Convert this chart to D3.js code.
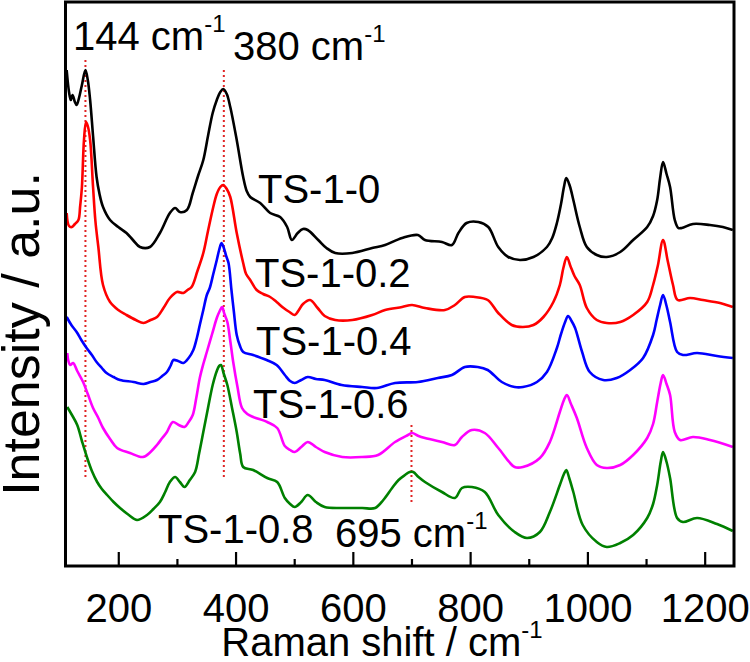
<!DOCTYPE html>
<html>
<head>
<meta charset="utf-8">
<script src="https://cdn.jsdelivr.net/npm/d3@7"></script>
<style>
html,body{margin:0;padding:0;background:#fff;}
svg{display:block;}
text{font-family:"Liberation Sans",Arial,sans-serif;fill:#000;}
</style>
</head>
<body>
<svg id="chart" width="750" height="662"></svg>
<script>
// ---- data (Raman shift in cm-1, intensity in a.u.) ----
const seriesNames = ["TS-1-0", "TS-1-0.2", "TS-1-0.4", "TS-1-0.6", "TS-1-0.8"];
const seriesColors = ["#000000", "#ff0000", "#0000ff", "#ff00ff", "#008000"];

const ts1_0 = [[112,496],[116,474],[119,466],[122,471],[126,464],[129,461],[133,468],[138,481],[144,496],[148,486],[152,466],[157,430],[163,389],[168,372],[174,359],[186,346],[200,339],[214,333],[225,326],[237,319],[254,319],[271,333],[288,353],[297,358],[305,354],[317,356],[327,373],[336,390],[345,406],[353,430],[361,453],[368,466],[374,474],[379,477],[385,472],[391,459],[402,426],[413,389],[419,375],[425,369],[442,363],[459,353],[476,349],[488,339],[496,326],[506,333],[515,337],[523,336],[541,326],[555,318],[570,313],[599,313],[633,318],[655,321],[684,328],[711,331],[723,326],[752,324],[769,321],[780,333],[794,343],[814,344],[831,339],[848,319],[865,309],[885,306],[908,309],[931,319],[940,328],[948,343],[955,362],[960,379],[964,388],[970,380],[976,366],[987,339],[999,319],[1016,311],[1033,309],[1056,314],[1078,326],[1102,339],[1112,350],[1119,366],[1124,388],[1129,404],[1135,392],[1141,379],[1149,346],[1155,338],[1161,338],[1180,342],[1209,341],[1231,339],[1248,336]];

const ts1_02 = [[112,353],[116,340],[121,339],[126,342],[132,346],[135,360],[138,379],[141.5,426],[145,444],[148,440],[152,426],[157,379],[161,345],[166,319],[174,281],[186,264],[200,256],[214,251],[230,246],[243,243],[255,246],[266,249],[277,258],[288,268],[300,274],[311,273],[318,276],[325,279],[335,295],[345,313],[353,335],[362,359],[368,372],[374,379],[379,381],[385,377],[391,369],[402,333],[413,303],[418,292],[425,286],[436,276],[447,272],[459,269],[470,264],[482,258],[492,254],[501,251],[508,256],[515,262],[527,266],[540,258],[552,250],[570,246],[599,246],[633,251],[655,256],[684,259],[701,261],[723,258],[757,256],[774,261],[791,269],[808,269],[830,266],[848,253],[871,241],[890,239],[908,241],[925,249],[942,264],[953,281],[959,298],[965,309],[971,300],[978,290],[987,281],[999,258],[1016,246],[1033,243],[1056,244],[1078,251],[1102,264],[1112,281],[1120,300],[1129,326],[1137,305],[1146,281],[1154,266],[1175,268],[1197,266],[1226,263],[1248,259]];

const ts1_04 = [[112,249],[120,241],[129,234],[137,226],[146,218],[155,211],[163,204],[172,198],[180,193],[192,189],[203,186],[226,184],[243,182],[255,184],[266,186],[275,190],[283,194],[289,200],[294,206],[302,205],[311,203],[320,208],[328,216],[334,228],[339,241],[345,256],[351,271],[356,278],[362,292],[368,306],[372,316],[376,323],[380,318],[384,310],[388,303],[393,276],[397,255],[402,231],[407,221],[413,214],[430,211],[453,206],[470,201],[484,191],[493,185],[501,183],[512,186],[523,189],[537,187],[552,186],[581,181],[616,179],[641,178],[672,183],[711,184],[745,188],[769,191],[791,199],[813,199],[830,196],[854,184],[876,179],[890,179],[914,184],[931,194],[948,218],[955,232],[962,244],[967,250],[973,245],[979,238],[991,214],[1004,194],[1027,186],[1050,188],[1073,196],[1095,208],[1112,231],[1118,246],[1124,261],[1129,271],[1135,260],[1141,244],[1153,214],[1163,211],[1187,213],[1221,210],[1248,208]];

const ts1_06 = [[113,213],[115,205],[118,201],[123,203],[130,195],[140,184],[148,172],[157,158],[166,148],[174,138],[186,127],[198,118],[220,113],[242,109],[255,114],[266,121],[275,128],[283,134],[293,144],[303,141],[313,139],[320,144],[327,151],[333,168],[339,188],[345,202],[351,214],[360,232],[368,248],[373,255],[377,259],[381,252],[386,244],[391,225],[396,204],[403,180],[411,158],[420,152],[430,149],[454,144],[471,138],[484,120],[493,116],[501,114],[512,119],[523,124],[537,119],[552,114],[582,109],[616,109],[643,111],[672,124],[694,131],[701,133],[712,130],[723,128],[752,124],[774,121],[786,129],[803,136],[825,133],[848,118],[876,99],[890,99],[919,108],[936,124],[953,154],[960,166],[965,171],[972,162],[982,148],[999,118],[1016,101],[1033,98],[1056,101],[1078,111],[1102,128],[1112,142],[1119,164],[1125,183],[1129,191],[1135,182],[1141,171],[1149,134],[1158,126],[1180,129],[1209,126],[1248,119]];

const ts1_08 = [[113,159],[120,152],[130,141],[138,125],[147,108],[155,95],[164,84],[172,77],[181,71],[192,64],[203,58],[218,51],[232,46],[249,51],[260,57],[271,64],[280,74],[288,84],[297,89],[305,84],[313,79],[322,86],[331,94],[338,113],[345,134],[353,158],[361,181],[368,195],[372,200],[375,201],[380,192],[386,181],[394,158],[402,134],[408,112],[413,99],[430,96],[454,88],[471,84],[484,68],[493,62],[501,59],[512,64],[523,71],[537,64],[552,59],[582,58],[616,58],[638,58],[652,66],[667,78],[678,86],[689,91],[697,94],[703,94],[712,89],[723,84],[752,74],[774,68],[786,78],[803,79],[825,74],[848,51],[876,34],[897,28],[919,34],[936,54],[953,81],[960,92],[964,96],[969,88],[976,74],[992,41],[1016,24],[1033,19],[1056,23],[1078,31],[1102,48],[1112,62],[1119,81],[1125,104],[1129,114],[1135,104],[1141,88],[1153,48],[1163,44],[1187,48],[1221,42],[1248,35]];

const seriesData = [ts1_0, ts1_02, ts1_04, ts1_06, ts1_08];

// dotted peak markers: position, from, to (a.u.)
const markerPos = [144, 380, 700];
const markerFrom = [89, 89, 63];
const markerTo = [506, 496, 141];

const xTickValues = [200, 400, 600, 800, 1000, 1200];
const xMinorTicks = [300, 500, 700, 900, 1100];
const xDomain = [110, 1250];
const yDomain = [0, 564];

// ---- layout ----
const svg = d3.select("#chart");
const L = 65.5, R = 734, T = 2, B = 566;
const x = d3.scaleLinear().domain(xDomain).range([L, R]);
const y = d3.scaleLinear().domain(yDomain).range([B, T]);

// dotted markers
svg.append("g").selectAll("line").data(markerPos).join("line")
  .attr("x1", d => x(d)).attr("x2", d => x(d))
  .attr("y1", (d, i) => y(markerTo[i])).attr("y2", (d, i) => y(markerFrom[i]))
  .attr("stroke", "#e02525").attr("stroke-width", 2)
  .attr("stroke-dasharray", "2,3");

// spectra
const line = d3.line().x(d => x(d[0])).y(d => y(d[1])).curve(d3.curveCatmullRom.alpha(0.5));
svg.append("g").selectAll("path").data(seriesData).join("path")
  .attr("d", line)
  .attr("fill", "none")
  .attr("stroke", (d, i) => seriesColors[i])
  .attr("stroke-width", 2.6)
  .attr("stroke-linejoin", "round");

// ticks (inward, bottom)
const xAxis = d3.axisBottom(x).tickValues(xTickValues).tickSize(-14).tickFormat(d3.format("d")).tickPadding(28);
const gx = svg.append("g").attr("transform", `translate(0,${B})`).call(xAxis);
gx.select(".domain").remove();
gx.selectAll(".tick line").attr("stroke", "#000").attr("stroke-width", 2.2);
gx.selectAll(".tick text").attr("font-size", 40).attr("font-family", "Liberation Sans, Arial, sans-serif");
const xAxisMinor = d3.axisBottom(x).tickValues(xMinorTicks).tickSize(-7).tickFormat("");
const gxm = svg.append("g").attr("transform", `translate(0,${B})`).call(xAxisMinor);
gxm.select(".domain").remove();
gxm.selectAll(".tick line").attr("stroke", "#000").attr("stroke-width", 2.2);

// frame
svg.append("rect").attr("x", L).attr("y", T).attr("width", R - L).attr("height", B - T)
  .attr("fill", "none").attr("stroke", "#000").attr("stroke-width", 3);

// axis titles
const xt = svg.append("text").attr("x", 382).attr("y", 656).attr("text-anchor", "middle").attr("font-size", 40);
xt.append("tspan").text("Raman shift / cm");
xt.append("tspan").attr("font-size", 24).attr("dy", -18).text("-1");

svg.append("text").attr("transform", "translate(39,334) rotate(-90)")
  .attr("text-anchor", "middle").attr("font-size", 52).text("Intensity / a.u.");

// series labels
const labelPos = [[258, 203], [255, 287], [256, 355], [253, 418], [158, 543]];
svg.append("g").selectAll("text").data(seriesNames).join("text")
  .attr("x", (d, i) => labelPos[i][0]).attr("y", (d, i) => labelPos[i][1])
  .attr("font-size", 40).text(d => d);

// peak annotations
const annots = [["144 cm", 73, 50], ["380 cm", 233, 60], ["695 cm", 335, 547]];
annots.forEach(a => {
  const t = svg.append("text").attr("x", a[1]).attr("y", a[2]).attr("font-size", 40);
  t.append("tspan").text(a[0]);
  t.append("tspan").attr("font-size", 24).attr("dy", -18).text("-1");
});
</script>
</body>
</html>
